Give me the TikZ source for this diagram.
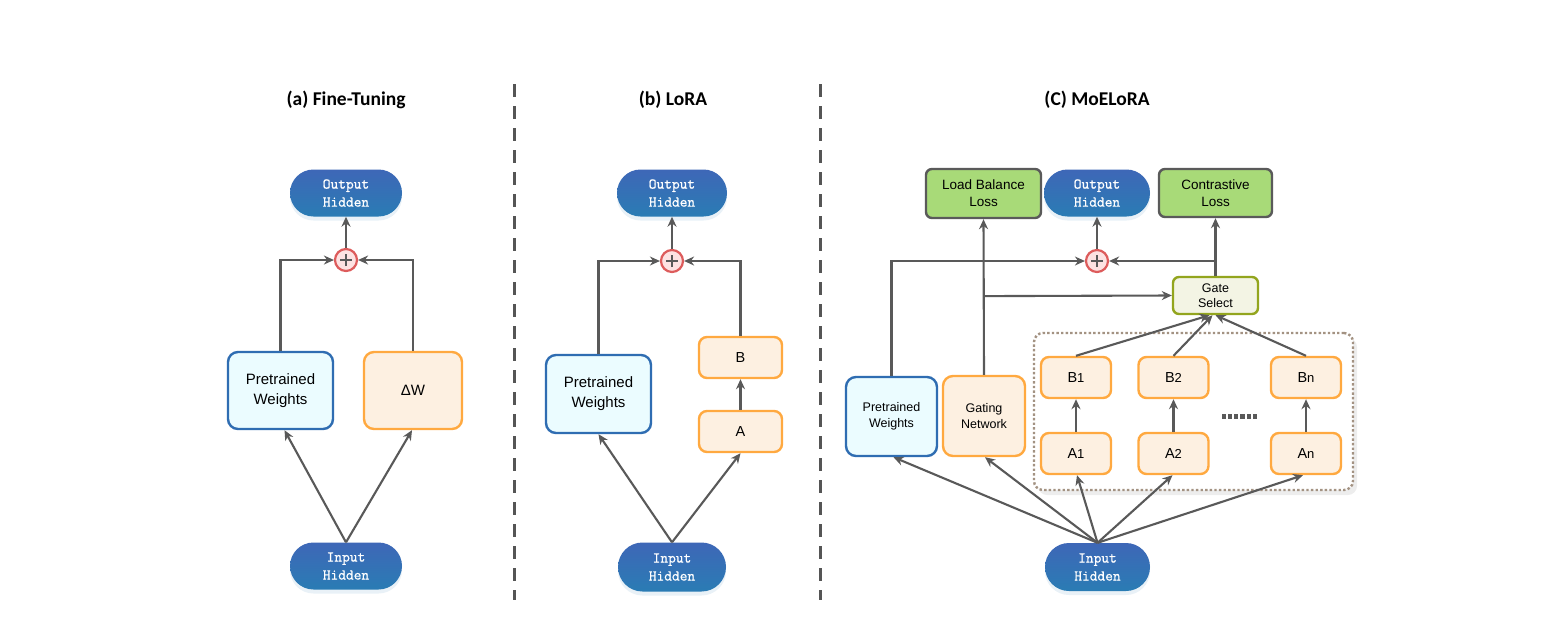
\documentclass[tikz,border=0pt]{standalone}
\usepackage{fontspec}
\setmainfont{Liberation Sans}
\newfontfamily\titlefont{Carlito}
\newfontfamily\pillfont{Latin Modern Mono}[FakeBold=0.9]
\usetikzlibrary{arrows.meta,shadows,calc}
\definecolor{linegray}{HTML}{595959}
\definecolor{pilltop}{HTML}{3E67B7}
\definecolor{pillbot}{HTML}{2A7CB4}
\definecolor{pwdraw}{HTML}{2F6DB2}
\definecolor{pwfill}{HTML}{EBFCFF}
\definecolor{ordraw}{HTML}{FFA940}
\definecolor{orfill}{HTML}{FDF0E1}
\definecolor{grfill}{HTML}{A8DA78}
\definecolor{grdraw}{HTML}{5A5A5A}
\definecolor{gsdraw}{HTML}{93A51E}
\definecolor{gsfill}{HTML}{F3F4E4}
\definecolor{plusdraw}{HTML}{DD5C5C}
\definecolor{plusfill}{HTML}{FDE2E2}
\definecolor{dotdraw}{HTML}{A39282}
\definecolor{sepgray}{HTML}{555555}
\tikzset{
  pill/.style={rectangle, rounded corners=23.5pt, minimum width=112pt, minimum height=47pt,
    top color=pilltop, bottom color=pillbot, draw=none, text=white,
    font=\pillfont\fontsize{15}{18}\selectfont, align=center, inner sep=0pt,
    drop shadow={shadow xshift=0pt, shadow yshift=-4pt, opacity=0.10, fill=pillbot}},
  pwbox/.style={rectangle, rounded corners=10pt, draw=pwdraw, fill=pwfill, line width=2.4pt,
    align=center, inner sep=0pt, font=\fontsize{15}{20}\selectfont},
  orbox/.style={rectangle, rounded corners=8pt, draw=ordraw, fill=orfill, line width=2.4pt,
    align=center, inner sep=0pt, font=\fontsize{14.5}{18}\selectfont},
  grbox/.style={rectangle, rounded corners=6pt, draw=grdraw, fill=grfill, line width=2.4pt,
    align=center, inner sep=0pt, minimum height=49pt, font=\fontsize{13.5}{17}\selectfont},
  gsbox/.style={rectangle, rounded corners=6pt, draw=gsdraw, fill=gsfill, line width=2.4pt,
    align=center, inner sep=0pt, minimum width=85pt, minimum height=37pt,
    font=\fontsize{12.5}{15}\selectfont},
  plusnode/.style={circle, draw=plusdraw, fill=plusfill, line width=2.2pt, minimum size=22pt,
    inner sep=0pt, path picture={\draw[linegray, line width=1.3pt]
      ($(path picture bounding box.center)+(-6pt,0)$) -- ($(path picture bounding box.center)+(6pt,0)$)
      ($(path picture bounding box.center)+(0,-6pt)$) -- ($(path picture bounding box.center)+(0,6pt)$);}},
  conn/.style={draw=linegray, line width=2.1pt, -{Stealth[length=10pt,width=9pt]}},
  sepline/.style={draw=sepgray, line width=3pt, dash pattern=on 13pt off 9pt},
  ttl/.style={font=\titlefont\bfseries\fontsize{19.5}{24}\selectfont},
}
\begin{document}
\begin{tikzpicture}[x=1pt,y=-1pt]
\useasboundingbox[fill=white] (0,0) rectangle (1559,630);

% separators
\coordinate (s1a) at (514,84); \coordinate (s1b) at (514,600);
\coordinate (s2a) at (820,84); \coordinate (s2b) at (820,600);
\draw[sepline] (s1a) -- (s1b);
\draw[sepline] (s2a) -- (s2b);

% titles
\node[ttl] (ta) at (346,100) {(a) Fine-Tuning};
\node[ttl] (tb) at (673,100) {(b) LoRA};
\node[ttl] (tc) at (1097,100) {(C) MoELoRA};

% ---------- (a) ----------
\node[pill] (aout) at (346,193) {Output\\Hidden};
\node[pill] (ain) at (346,566) {Input\\Hidden};
\node[plusnode] (aplus) at (346,260) {};
\node[pwbox, minimum width=105pt, minimum height=77pt] (apw) at (280.5,390.5) {Pretrained\\Weights};
\node[orbox, minimum width=98pt, minimum height=77pt, rounded corners=10pt, font=\fontsize{15}{20}\selectfont] (adw) at (413,390.5) {ΔW};
\draw[conn] (aplus) -- (aout);
\draw[conn] (apw.north) |- (aplus.west);
\draw[conn] (adw.north) |- (aplus.east);
\draw[conn] (ain.north) -- ($(apw.south)+(4,0)$);
\draw[conn] (ain.north) -- ($(adw.south)+(-1,0)$);

% ---------- (b) ----------
\node[pill, minimum width=110pt] (bout) at (672,193) {Output\\Hidden};
\node[pill, minimum width=108pt, minimum height=49pt, rounded corners=24.5pt] (bin) at (672,567) {Input\\Hidden};
\node[plusnode] (bplus) at (672,261) {};
\node[pwbox, minimum width=105pt, minimum height=78pt] (bpw) at (598.5,394) {Pretrained\\Weights};
\node[orbox, minimum width=83pt, minimum height=41pt] (bB) at (740.5,357.5) {B};
\node[orbox, minimum width=83pt, minimum height=41pt] (bA) at (740.5,431.5) {A};
\draw[conn] (bplus) -- (bout);
\draw[conn] (bpw.north) |- (bplus.west);
\draw[conn] (bB.north) |- (bplus.east);
\draw[conn] (bA) -- (bB);
\draw[conn] (bin.north) -- (bpw.south);
\draw[conn] (bin.north) -- (bA.south);

% ---------- (c) ----------
% container
\node[draw=dotdraw, line width=2.4pt, dash pattern=on 2.4pt off 2.2pt, rounded corners=9pt, fill=white,
  minimum width=319pt, minimum height=157pt,
  drop shadow={shadow xshift=4pt, shadow yshift=-5pt, opacity=0.07, fill=black}] (cont) at (1193.5,411.5) {};

\node[pill, minimum width=106pt] (cout) at (1097,193) {Output\\Hidden};
\node[pill, minimum width=105pt, minimum height=48pt, rounded corners=24pt] (cin) at (1097.5,567) {Input\\Hidden};
\node[plusnode] (cplus) at (1097,261) {};
\node[grbox, minimum width=115pt] (lbl) at (983.5,193.5) {Load Balance\\Loss};
\node[grbox, minimum width=113pt, minimum height=48pt] (ctl) at (1215.5,193) {Contrastive\\Loss};
\node[gsbox] (gate) at (1215.5,295.5) {Gate\\Select};
\node[pwbox, minimum width=91pt, minimum height=79pt, font=\fontsize{12.5}{16}\selectfont] (cpw) at (891.5,416.5) {Pretrained\\Weights};
\node[orbox, minimum width=82pt, minimum height=80pt, rounded corners=10pt, font=\fontsize{12.5}{16}\selectfont] (gnet) at (984,416) {Gating\\Network};

\node[orbox, minimum width=70pt, minimum height=41pt] (B1) at (1076,377.5) {B{\fontsize{13}{16}\selectfont 1}};
\node[orbox, minimum width=70pt, minimum height=41pt] (B2) at (1173.5,377.5) {B{\fontsize{13}{16}\selectfont 2}};
\node[orbox, minimum width=70pt, minimum height=41pt] (Bn) at (1306,377.5) {B{\fontsize{13}{16}\selectfont n}};
\node[orbox, minimum width=70pt, minimum height=41pt] (A1) at (1076,453.5) {A{\fontsize{13}{16}\selectfont 1}};
\node[orbox, minimum width=70pt, minimum height=41pt] (A2) at (1173.5,453.5) {A{\fontsize{13}{16}\selectfont 2}};
\node[orbox, minimum width=70pt, minimum height=41pt] (An) at (1306,453.5) {A{\fontsize{13}{16}\selectfont n}};

% dots
\node[inner sep=0pt, minimum width=36pt, minimum height=6pt] (dots) at (1240,416.5) {};
\foreach \i in {0,...,5} {
  \fill[linegray] ($(dots.west)+(\i*6.2pt,-2.5pt)$) rectangle ++(4.2pt,5pt);
}

% connectors (c)
\draw[conn] (cplus) -- (cout);
\draw[conn] (cpw.north) |- (cplus.west);
\draw[conn] (gate.north) |- (cplus.east);
\draw[conn] (gate.north) -- (ctl.south);
\draw[conn] (gnet.north) -- (lbl.south);
\coordinate (gbranch) at ($(gnet.north)!(gate.west)!(lbl.south)$);
\draw[conn] (gbranch) -- (gate.west);

\draw[conn] (A1) -- (B1);
\draw[conn] (A2) -- (B2);
\draw[conn] (An) -- (Bn);
\draw[conn] (B1.north) -- ($(gate.south)+(-6,0)$);
\draw[conn] (B2.north) -- ($(gate.south)+(-3,0)$);
\draw[conn] (Bn.north) -- (gate.south);

\draw[conn] (cin.north) -- ($(cpw.south)+(2,0)$);
\draw[conn] (cin.north) -- ($(gnet.south)+(1,0)$);
\draw[conn] (cin.north) -- ($(A1.south)+(1,0)$);
\draw[conn] (cin.north) -- ($(A2.south)+(-1,0)$);
\draw[conn] (cin.north) -- ($(An.south)+(-3,0)$);
\end{tikzpicture}
\end{document}
